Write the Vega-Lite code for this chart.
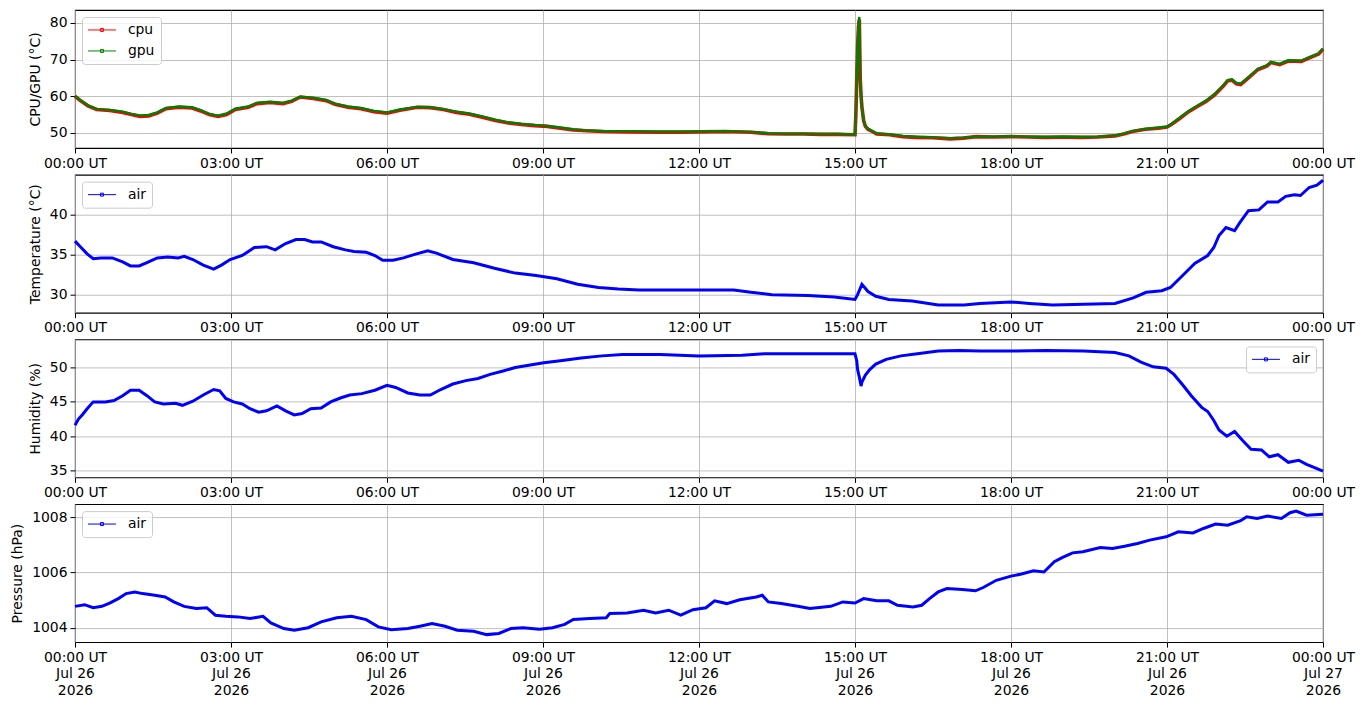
{
  "$schema": "https://vega.github.io/schema/vega-lite/v6.json",
  "padding": {"left": 10, "top": 9, "right": 0, "bottom": 0},
  "spacing": 2.7,
  "datasets": {
    "chips": [
      {"t": "2026-07-26T00:00Z", "cpu": 60.0, "gpu": 60.1},
      {"t": "2026-07-26T00:05Z", "cpu": 59.0, "gpu": 59.2},
      {"t": "2026-07-26T00:15Z", "cpu": 57.4, "gpu": 57.5},
      {"t": "2026-07-26T00:25Z", "cpu": 56.4, "gpu": 56.5},
      {"t": "2026-07-26T00:40Z", "cpu": 56.1, "gpu": 56.3},
      {"t": "2026-07-26T00:55Z", "cpu": 55.6, "gpu": 55.8},
      {"t": "2026-07-26T01:05Z", "cpu": 55.0, "gpu": 55.2},
      {"t": "2026-07-26T01:15Z", "cpu": 54.5, "gpu": 54.8},
      {"t": "2026-07-26T01:25Z", "cpu": 54.6, "gpu": 54.9},
      {"t": "2026-07-26T01:35Z", "cpu": 55.4, "gpu": 55.6},
      {"t": "2026-07-26T01:45Z", "cpu": 56.6, "gpu": 56.8},
      {"t": "2026-07-26T02:00Z", "cpu": 57.0, "gpu": 57.2},
      {"t": "2026-07-26T02:15Z", "cpu": 56.8, "gpu": 57.0},
      {"t": "2026-07-26T02:25Z", "cpu": 56.0, "gpu": 56.2},
      {"t": "2026-07-26T02:35Z", "cpu": 55.0, "gpu": 55.2},
      {"t": "2026-07-26T02:45Z", "cpu": 54.5, "gpu": 54.7},
      {"t": "2026-07-26T02:55Z", "cpu": 55.0, "gpu": 55.3},
      {"t": "2026-07-26T03:05Z", "cpu": 56.4, "gpu": 56.6},
      {"t": "2026-07-26T03:20Z", "cpu": 57.0, "gpu": 57.2},
      {"t": "2026-07-26T03:30Z", "cpu": 58.0, "gpu": 58.2},
      {"t": "2026-07-26T03:45Z", "cpu": 58.3, "gpu": 58.5},
      {"t": "2026-07-26T04:00Z", "cpu": 58.0, "gpu": 58.2},
      {"t": "2026-07-26T04:10Z", "cpu": 58.6, "gpu": 58.8},
      {"t": "2026-07-26T04:20Z", "cpu": 59.8, "gpu": 59.9},
      {"t": "2026-07-26T04:35Z", "cpu": 59.4, "gpu": 59.6},
      {"t": "2026-07-26T04:50Z", "cpu": 58.8, "gpu": 59.0},
      {"t": "2026-07-26T05:00Z", "cpu": 57.8, "gpu": 58.0},
      {"t": "2026-07-26T05:15Z", "cpu": 57.0, "gpu": 57.2},
      {"t": "2026-07-26T05:30Z", "cpu": 56.6, "gpu": 56.8},
      {"t": "2026-07-26T05:45Z", "cpu": 55.8, "gpu": 56.0},
      {"t": "2026-07-26T06:00Z", "cpu": 55.4, "gpu": 55.6},
      {"t": "2026-07-26T06:15Z", "cpu": 56.2, "gpu": 56.4},
      {"t": "2026-07-26T06:35Z", "cpu": 57.0, "gpu": 57.1},
      {"t": "2026-07-26T06:50Z", "cpu": 56.9, "gpu": 57.0},
      {"t": "2026-07-26T07:05Z", "cpu": 56.4, "gpu": 56.5},
      {"t": "2026-07-26T07:20Z", "cpu": 55.6, "gpu": 55.8},
      {"t": "2026-07-26T07:35Z", "cpu": 55.1, "gpu": 55.3},
      {"t": "2026-07-26T07:50Z", "cpu": 54.3, "gpu": 54.5},
      {"t": "2026-07-26T08:05Z", "cpu": 53.4, "gpu": 53.6},
      {"t": "2026-07-26T08:20Z", "cpu": 52.7, "gpu": 52.9},
      {"t": "2026-07-26T08:35Z", "cpu": 52.3, "gpu": 52.5},
      {"t": "2026-07-26T08:50Z", "cpu": 52.0, "gpu": 52.2},
      {"t": "2026-07-26T09:05Z", "cpu": 51.8, "gpu": 51.9},
      {"t": "2026-07-26T09:20Z", "cpu": 51.3, "gpu": 51.5},
      {"t": "2026-07-26T09:35Z", "cpu": 50.8, "gpu": 51.0},
      {"t": "2026-07-26T09:50Z", "cpu": 50.6, "gpu": 50.7},
      {"t": "2026-07-26T10:10Z", "cpu": 50.4, "gpu": 50.5},
      {"t": "2026-07-26T10:40Z", "cpu": 50.3, "gpu": 50.5},
      {"t": "2026-07-26T11:10Z", "cpu": 50.2, "gpu": 50.4},
      {"t": "2026-07-26T11:40Z", "cpu": 50.2, "gpu": 50.4},
      {"t": "2026-07-26T12:00Z", "cpu": 50.3, "gpu": 50.4},
      {"t": "2026-07-26T12:30Z", "cpu": 50.4, "gpu": 50.5},
      {"t": "2026-07-26T13:00Z", "cpu": 50.2, "gpu": 50.3},
      {"t": "2026-07-26T13:20Z", "cpu": 49.8, "gpu": 49.9},
      {"t": "2026-07-26T13:40Z", "cpu": 49.7, "gpu": 49.8},
      {"t": "2026-07-26T14:00Z", "cpu": 49.7, "gpu": 49.8},
      {"t": "2026-07-26T14:20Z", "cpu": 49.6, "gpu": 49.7},
      {"t": "2026-07-26T14:40Z", "cpu": 49.6, "gpu": 49.7},
      {"t": "2026-07-26T15:00Z", "cpu": 49.5, "gpu": 49.6},
      {"t": "2026-07-26T15:01Z", "cpu": 55.0, "gpu": 55.6},
      {"t": "2026-07-26T15:02Z", "cpu": 64.8, "gpu": 64.9},
      {"t": "2026-07-26T15:03Z", "cpu": 73.5, "gpu": 73.6},
      {"t": "2026-07-26T15:04Z", "cpu": 79.0, "gpu": 79.3},
      {"t": "2026-07-26T15:05Z", "cpu": 80.9, "gpu": 81.6},
      {"t": "2026-07-26T15:06Z", "cpu": 65.0, "gpu": 65.0},
      {"t": "2026-07-26T15:07Z", "cpu": 60.0, "gpu": 60.1},
      {"t": "2026-07-26T15:08Z", "cpu": 57.0, "gpu": 57.0},
      {"t": "2026-07-26T15:10Z", "cpu": 53.3, "gpu": 53.3},
      {"t": "2026-07-26T15:12Z", "cpu": 51.8, "gpu": 51.9},
      {"t": "2026-07-26T15:15Z", "cpu": 51.0, "gpu": 51.2},
      {"t": "2026-07-26T15:20Z", "cpu": 50.4, "gpu": 50.5},
      {"t": "2026-07-26T15:25Z", "cpu": 49.7, "gpu": 49.9},
      {"t": "2026-07-26T15:40Z", "cpu": 49.5, "gpu": 49.6},
      {"t": "2026-07-26T15:55Z", "cpu": 49.0, "gpu": 49.2},
      {"t": "2026-07-26T16:10Z", "cpu": 48.8, "gpu": 49.0},
      {"t": "2026-07-26T16:30Z", "cpu": 48.7, "gpu": 48.8},
      {"t": "2026-07-26T16:50Z", "cpu": 48.4, "gpu": 48.6},
      {"t": "2026-07-26T17:05Z", "cpu": 48.6, "gpu": 48.7},
      {"t": "2026-07-26T17:20Z", "cpu": 49.0, "gpu": 49.0},
      {"t": "2026-07-26T17:40Z", "cpu": 48.9, "gpu": 49.0},
      {"t": "2026-07-26T18:00Z", "cpu": 49.0, "gpu": 49.1},
      {"t": "2026-07-26T18:20Z", "cpu": 48.9, "gpu": 49.0},
      {"t": "2026-07-26T18:40Z", "cpu": 48.8, "gpu": 48.9},
      {"t": "2026-07-26T19:00Z", "cpu": 48.9, "gpu": 49.0},
      {"t": "2026-07-26T19:20Z", "cpu": 48.8, "gpu": 48.9},
      {"t": "2026-07-26T19:40Z", "cpu": 48.9, "gpu": 49.0},
      {"t": "2026-07-26T20:00Z", "cpu": 49.2, "gpu": 49.3},
      {"t": "2026-07-26T20:10Z", "cpu": 49.7, "gpu": 49.8},
      {"t": "2026-07-26T20:20Z", "cpu": 50.4, "gpu": 50.5},
      {"t": "2026-07-26T20:35Z", "cpu": 51.0, "gpu": 51.1},
      {"t": "2026-07-26T20:50Z", "cpu": 51.3, "gpu": 51.5},
      {"t": "2026-07-26T21:00Z", "cpu": 51.6, "gpu": 51.7},
      {"t": "2026-07-26T21:05Z", "cpu": 52.3, "gpu": 52.4},
      {"t": "2026-07-26T21:15Z", "cpu": 54.0, "gpu": 54.2},
      {"t": "2026-07-26T21:25Z", "cpu": 55.8, "gpu": 56.0},
      {"t": "2026-07-26T21:35Z", "cpu": 57.2, "gpu": 57.4},
      {"t": "2026-07-26T21:45Z", "cpu": 58.6, "gpu": 58.8},
      {"t": "2026-07-26T21:55Z", "cpu": 60.4, "gpu": 60.6},
      {"t": "2026-07-26T22:05Z", "cpu": 62.8, "gpu": 63.0},
      {"t": "2026-07-26T22:10Z", "cpu": 64.2, "gpu": 64.4},
      {"t": "2026-07-26T22:15Z", "cpu": 64.4, "gpu": 64.6},
      {"t": "2026-07-26T22:20Z", "cpu": 63.4, "gpu": 63.6},
      {"t": "2026-07-26T22:25Z", "cpu": 63.2, "gpu": 63.4},
      {"t": "2026-07-26T22:35Z", "cpu": 65.2, "gpu": 65.4},
      {"t": "2026-07-26T22:45Z", "cpu": 67.3, "gpu": 67.5},
      {"t": "2026-07-26T22:55Z", "cpu": 68.2, "gpu": 68.4},
      {"t": "2026-07-26T23:00Z", "cpu": 69.2, "gpu": 69.3},
      {"t": "2026-07-26T23:10Z", "cpu": 68.6, "gpu": 68.8},
      {"t": "2026-07-26T23:20Z", "cpu": 69.6, "gpu": 69.8},
      {"t": "2026-07-26T23:35Z", "cpu": 69.5, "gpu": 69.7},
      {"t": "2026-07-26T23:45Z", "cpu": 70.5, "gpu": 70.7},
      {"t": "2026-07-26T23:55Z", "cpu": 71.5, "gpu": 71.7},
      {"t": "2026-07-27T00:00Z", "cpu": 72.8, "gpu": 73.0}
    ],
    "temp": [
      {"t": "2026-07-26T00:00Z", "v": 36.7}, {"t": "2026-07-26T00:07Z", "v": 35.9},
      {"t": "2026-07-26T00:14Z", "v": 35.1}, {"t": "2026-07-26T00:21Z", "v": 34.5},
      {"t": "2026-07-26T00:30Z", "v": 34.6}, {"t": "2026-07-26T00:43Z", "v": 34.6},
      {"t": "2026-07-26T00:55Z", "v": 34.1}, {"t": "2026-07-26T01:04Z", "v": 33.6},
      {"t": "2026-07-26T01:14Z", "v": 33.6}, {"t": "2026-07-26T01:23Z", "v": 34.0},
      {"t": "2026-07-26T01:35Z", "v": 34.6}, {"t": "2026-07-26T01:47Z", "v": 34.7},
      {"t": "2026-07-26T01:59Z", "v": 34.6}, {"t": "2026-07-26T02:06Z", "v": 34.8},
      {"t": "2026-07-26T02:16Z", "v": 34.4}, {"t": "2026-07-26T02:28Z", "v": 33.7},
      {"t": "2026-07-26T02:40Z", "v": 33.2}, {"t": "2026-07-26T02:49Z", "v": 33.7},
      {"t": "2026-07-26T02:59Z", "v": 34.4}, {"t": "2026-07-26T03:13Z", "v": 34.9},
      {"t": "2026-07-26T03:27Z", "v": 35.9}, {"t": "2026-07-26T03:41Z", "v": 36.0},
      {"t": "2026-07-26T03:51Z", "v": 35.6}, {"t": "2026-07-26T04:03Z", "v": 36.4},
      {"t": "2026-07-26T04:15Z", "v": 36.9}, {"t": "2026-07-26T04:25Z", "v": 36.9},
      {"t": "2026-07-26T04:34Z", "v": 36.6}, {"t": "2026-07-26T04:44Z", "v": 36.6},
      {"t": "2026-07-26T04:58Z", "v": 36.0}, {"t": "2026-07-26T05:12Z", "v": 35.6},
      {"t": "2026-07-26T05:22Z", "v": 35.4}, {"t": "2026-07-26T05:36Z", "v": 35.3},
      {"t": "2026-07-26T05:46Z", "v": 34.9}, {"t": "2026-07-26T05:55Z", "v": 34.3},
      {"t": "2026-07-26T06:07Z", "v": 34.3}, {"t": "2026-07-26T06:19Z", "v": 34.6},
      {"t": "2026-07-26T06:34Z", "v": 35.1}, {"t": "2026-07-26T06:47Z", "v": 35.5},
      {"t": "2026-07-26T06:57Z", "v": 35.2}, {"t": "2026-07-26T07:16Z", "v": 34.4},
      {"t": "2026-07-26T07:40Z", "v": 34.0}, {"t": "2026-07-26T08:04Z", "v": 33.3},
      {"t": "2026-07-26T08:28Z", "v": 32.7}, {"t": "2026-07-26T08:52Z", "v": 32.4},
      {"t": "2026-07-26T09:16Z", "v": 32.0}, {"t": "2026-07-26T09:40Z", "v": 31.3},
      {"t": "2026-07-26T10:04Z", "v": 30.9}, {"t": "2026-07-26T10:27Z", "v": 30.7},
      {"t": "2026-07-26T10:51Z", "v": 30.6}, {"t": "2026-07-26T12:00Z", "v": 30.6},
      {"t": "2026-07-26T12:40Z", "v": 30.6}, {"t": "2026-07-26T13:00Z", "v": 30.3},
      {"t": "2026-07-26T13:24Z", "v": 30.0}, {"t": "2026-07-26T14:06Z", "v": 29.9},
      {"t": "2026-07-26T14:36Z", "v": 29.7}, {"t": "2026-07-26T15:00Z", "v": 29.4},
      {"t": "2026-07-26T15:03Z", "v": 30.0}, {"t": "2026-07-26T15:08Z", "v": 31.3},
      {"t": "2026-07-26T15:15Z", "v": 30.4}, {"t": "2026-07-26T15:24Z", "v": 29.8},
      {"t": "2026-07-26T15:39Z", "v": 29.4}, {"t": "2026-07-26T16:06Z", "v": 29.2},
      {"t": "2026-07-26T16:36Z", "v": 28.7}, {"t": "2026-07-26T17:06Z", "v": 28.7},
      {"t": "2026-07-26T17:24Z", "v": 28.9}, {"t": "2026-07-26T18:00Z", "v": 29.1},
      {"t": "2026-07-26T18:21Z", "v": 28.9}, {"t": "2026-07-26T18:48Z", "v": 28.7},
      {"t": "2026-07-26T19:24Z", "v": 28.8}, {"t": "2026-07-26T20:00Z", "v": 28.9},
      {"t": "2026-07-26T20:21Z", "v": 29.6}, {"t": "2026-07-26T20:36Z", "v": 30.3},
      {"t": "2026-07-26T20:54Z", "v": 30.5}, {"t": "2026-07-26T21:04Z", "v": 30.9},
      {"t": "2026-07-26T21:18Z", "v": 32.4}, {"t": "2026-07-26T21:32Z", "v": 33.9},
      {"t": "2026-07-26T21:47Z", "v": 34.9}, {"t": "2026-07-26T21:54Z", "v": 35.9},
      {"t": "2026-07-26T22:00Z", "v": 37.4}, {"t": "2026-07-26T22:08Z", "v": 38.4},
      {"t": "2026-07-26T22:18Z", "v": 38.0}, {"t": "2026-07-26T22:24Z", "v": 39.0},
      {"t": "2026-07-26T22:34Z", "v": 40.5}, {"t": "2026-07-26T22:46Z", "v": 40.6},
      {"t": "2026-07-26T22:56Z", "v": 41.6}, {"t": "2026-07-26T23:08Z", "v": 41.6},
      {"t": "2026-07-26T23:17Z", "v": 42.3}, {"t": "2026-07-26T23:27Z", "v": 42.5},
      {"t": "2026-07-26T23:34Z", "v": 42.4}, {"t": "2026-07-26T23:44Z", "v": 43.4},
      {"t": "2026-07-26T23:53Z", "v": 43.7}, {"t": "2026-07-27T00:00Z", "v": 44.3}
    ],
    "hum": [
      {"t": "2026-07-26T00:00Z", "v": 41.6}, {"t": "2026-07-26T00:04Z", "v": 42.5},
      {"t": "2026-07-26T00:09Z", "v": 43.2}, {"t": "2026-07-26T00:14Z", "v": 44.0},
      {"t": "2026-07-26T00:21Z", "v": 45.0}, {"t": "2026-07-26T00:35Z", "v": 45.0},
      {"t": "2026-07-26T00:45Z", "v": 45.2}, {"t": "2026-07-26T00:55Z", "v": 45.9},
      {"t": "2026-07-26T01:04Z", "v": 46.7}, {"t": "2026-07-26T01:14Z", "v": 46.7},
      {"t": "2026-07-26T01:23Z", "v": 45.9}, {"t": "2026-07-26T01:32Z", "v": 45.0},
      {"t": "2026-07-26T01:42Z", "v": 44.7}, {"t": "2026-07-26T01:56Z", "v": 44.8},
      {"t": "2026-07-26T02:04Z", "v": 44.5}, {"t": "2026-07-26T02:16Z", "v": 45.1},
      {"t": "2026-07-26T02:28Z", "v": 46.0}, {"t": "2026-07-26T02:40Z", "v": 46.8},
      {"t": "2026-07-26T02:47Z", "v": 46.6}, {"t": "2026-07-26T02:54Z", "v": 45.5},
      {"t": "2026-07-26T03:03Z", "v": 45.0}, {"t": "2026-07-26T03:13Z", "v": 44.7},
      {"t": "2026-07-26T03:22Z", "v": 44.0}, {"t": "2026-07-26T03:32Z", "v": 43.5},
      {"t": "2026-07-26T03:41Z", "v": 43.7}, {"t": "2026-07-26T03:53Z", "v": 44.4},
      {"t": "2026-07-26T04:03Z", "v": 43.7}, {"t": "2026-07-26T04:13Z", "v": 43.1},
      {"t": "2026-07-26T04:22Z", "v": 43.3}, {"t": "2026-07-26T04:32Z", "v": 44.0},
      {"t": "2026-07-26T04:44Z", "v": 44.1}, {"t": "2026-07-26T04:55Z", "v": 45.0},
      {"t": "2026-07-26T05:07Z", "v": 45.6}, {"t": "2026-07-26T05:17Z", "v": 46.0},
      {"t": "2026-07-26T05:31Z", "v": 46.2}, {"t": "2026-07-26T05:46Z", "v": 46.7},
      {"t": "2026-07-26T06:00Z", "v": 47.4}, {"t": "2026-07-26T06:10Z", "v": 47.1},
      {"t": "2026-07-26T06:24Z", "v": 46.3}, {"t": "2026-07-26T06:38Z", "v": 46.0},
      {"t": "2026-07-26T06:50Z", "v": 46.0}, {"t": "2026-07-26T07:02Z", "v": 46.8},
      {"t": "2026-07-26T07:16Z", "v": 47.6}, {"t": "2026-07-26T07:31Z", "v": 48.1},
      {"t": "2026-07-26T07:45Z", "v": 48.4}, {"t": "2026-07-26T07:59Z", "v": 49.0},
      {"t": "2026-07-26T08:14Z", "v": 49.5}, {"t": "2026-07-26T08:28Z", "v": 50.0},
      {"t": "2026-07-26T08:47Z", "v": 50.4}, {"t": "2026-07-26T09:01Z", "v": 50.7},
      {"t": "2026-07-26T09:20Z", "v": 51.0}, {"t": "2026-07-26T09:44Z", "v": 51.4},
      {"t": "2026-07-26T10:08Z", "v": 51.7}, {"t": "2026-07-26T10:32Z", "v": 51.9},
      {"t": "2026-07-26T11:15Z", "v": 51.9}, {"t": "2026-07-26T12:00Z", "v": 51.7},
      {"t": "2026-07-26T12:50Z", "v": 51.8}, {"t": "2026-07-26T13:15Z", "v": 52.0},
      {"t": "2026-07-26T14:10Z", "v": 52.0}, {"t": "2026-07-26T15:00Z", "v": 52.0},
      {"t": "2026-07-26T15:02Z", "v": 51.0}, {"t": "2026-07-26T15:03Z", "v": 49.7},
      {"t": "2026-07-26T15:05Z", "v": 48.6}, {"t": "2026-07-26T15:07Z", "v": 47.3},
      {"t": "2026-07-26T15:08Z", "v": 47.9}, {"t": "2026-07-26T15:12Z", "v": 48.9},
      {"t": "2026-07-26T15:17Z", "v": 49.7}, {"t": "2026-07-26T15:24Z", "v": 50.5},
      {"t": "2026-07-26T15:36Z", "v": 51.2}, {"t": "2026-07-26T15:53Z", "v": 51.7},
      {"t": "2026-07-26T16:12Z", "v": 52.0}, {"t": "2026-07-26T16:36Z", "v": 52.4},
      {"t": "2026-07-26T17:00Z", "v": 52.5}, {"t": "2026-07-26T17:24Z", "v": 52.4},
      {"t": "2026-07-26T18:00Z", "v": 52.4}, {"t": "2026-07-26T18:40Z", "v": 52.5},
      {"t": "2026-07-26T19:24Z", "v": 52.4}, {"t": "2026-07-26T20:00Z", "v": 52.2},
      {"t": "2026-07-26T20:16Z", "v": 51.7}, {"t": "2026-07-26T20:30Z", "v": 50.8},
      {"t": "2026-07-26T20:44Z", "v": 50.1}, {"t": "2026-07-26T20:59Z", "v": 49.9},
      {"t": "2026-07-26T21:08Z", "v": 49.0}, {"t": "2026-07-26T21:18Z", "v": 47.5},
      {"t": "2026-07-26T21:28Z", "v": 45.9}, {"t": "2026-07-26T21:40Z", "v": 44.2},
      {"t": "2026-07-26T21:47Z", "v": 43.6}, {"t": "2026-07-26T21:54Z", "v": 42.3},
      {"t": "2026-07-26T22:00Z", "v": 40.9}, {"t": "2026-07-26T22:09Z", "v": 40.0},
      {"t": "2026-07-26T22:18Z", "v": 40.7}, {"t": "2026-07-26T22:27Z", "v": 39.4},
      {"t": "2026-07-26T22:37Z", "v": 38.1}, {"t": "2026-07-26T22:49Z", "v": 38.0},
      {"t": "2026-07-26T22:58Z", "v": 37.0}, {"t": "2026-07-26T23:08Z", "v": 37.3},
      {"t": "2026-07-26T23:20Z", "v": 36.2}, {"t": "2026-07-26T23:32Z", "v": 36.5},
      {"t": "2026-07-26T23:41Z", "v": 35.9}, {"t": "2026-07-26T23:51Z", "v": 35.4},
      {"t": "2026-07-27T00:00Z", "v": 34.9}
    ],
    "pres": [
      {"t": "2026-07-26T00:00Z", "v": 1004.78}, {"t": "2026-07-26T00:11Z", "v": 1004.84},
      {"t": "2026-07-26T00:21Z", "v": 1004.73}, {"t": "2026-07-26T00:31Z", "v": 1004.78},
      {"t": "2026-07-26T00:40Z", "v": 1004.90}, {"t": "2026-07-26T00:50Z", "v": 1005.06},
      {"t": "2026-07-26T00:59Z", "v": 1005.24}, {"t": "2026-07-26T01:09Z", "v": 1005.30},
      {"t": "2026-07-26T01:18Z", "v": 1005.24}, {"t": "2026-07-26T01:32Z", "v": 1005.18},
      {"t": "2026-07-26T01:44Z", "v": 1005.12}, {"t": "2026-07-26T01:54Z", "v": 1004.94},
      {"t": "2026-07-26T02:06Z", "v": 1004.78}, {"t": "2026-07-26T02:20Z", "v": 1004.70},
      {"t": "2026-07-26T02:32Z", "v": 1004.73}, {"t": "2026-07-26T02:42Z", "v": 1004.46},
      {"t": "2026-07-26T02:54Z", "v": 1004.42}, {"t": "2026-07-26T03:08Z", "v": 1004.40},
      {"t": "2026-07-26T03:22Z", "v": 1004.34}, {"t": "2026-07-26T03:37Z", "v": 1004.42},
      {"t": "2026-07-26T03:46Z", "v": 1004.18}, {"t": "2026-07-26T04:01Z", "v": 1003.98},
      {"t": "2026-07-26T04:13Z", "v": 1003.92}, {"t": "2026-07-26T04:29Z", "v": 1004.01},
      {"t": "2026-07-26T04:44Z", "v": 1004.22}, {"t": "2026-07-26T05:02Z", "v": 1004.37},
      {"t": "2026-07-26T05:19Z", "v": 1004.42}, {"t": "2026-07-26T05:36Z", "v": 1004.30},
      {"t": "2026-07-26T05:50Z", "v": 1004.04}, {"t": "2026-07-26T06:05Z", "v": 1003.94},
      {"t": "2026-07-26T06:24Z", "v": 1003.98}, {"t": "2026-07-26T06:38Z", "v": 1004.06},
      {"t": "2026-07-26T06:52Z", "v": 1004.16}, {"t": "2026-07-26T07:07Z", "v": 1004.06},
      {"t": "2026-07-26T07:21Z", "v": 1003.92}, {"t": "2026-07-26T07:40Z", "v": 1003.88},
      {"t": "2026-07-26T07:55Z", "v": 1003.76}, {"t": "2026-07-26T08:09Z", "v": 1003.80},
      {"t": "2026-07-26T08:23Z", "v": 1003.98}, {"t": "2026-07-26T08:37Z", "v": 1004.01},
      {"t": "2026-07-26T08:56Z", "v": 1003.95}, {"t": "2026-07-26T09:11Z", "v": 1004.01},
      {"t": "2026-07-26T09:25Z", "v": 1004.13}, {"t": "2026-07-26T09:35Z", "v": 1004.31},
      {"t": "2026-07-26T09:54Z", "v": 1004.34}, {"t": "2026-07-26T10:13Z", "v": 1004.37},
      {"t": "2026-07-26T10:17Z", "v": 1004.52}, {"t": "2026-07-26T10:37Z", "v": 1004.54},
      {"t": "2026-07-26T10:56Z", "v": 1004.64}, {"t": "2026-07-26T11:10Z", "v": 1004.54},
      {"t": "2026-07-26T11:25Z", "v": 1004.64}, {"t": "2026-07-26T11:39Z", "v": 1004.46},
      {"t": "2026-07-26T11:53Z", "v": 1004.66}, {"t": "2026-07-26T12:08Z", "v": 1004.73},
      {"t": "2026-07-26T12:18Z", "v": 1004.98}, {"t": "2026-07-26T12:32Z", "v": 1004.88},
      {"t": "2026-07-26T12:47Z", "v": 1005.02}, {"t": "2026-07-26T13:06Z", "v": 1005.12},
      {"t": "2026-07-26T13:13Z", "v": 1005.18}, {"t": "2026-07-26T13:20Z", "v": 1004.94},
      {"t": "2026-07-26T13:35Z", "v": 1004.88}, {"t": "2026-07-26T13:54Z", "v": 1004.78},
      {"t": "2026-07-26T14:08Z", "v": 1004.70}, {"t": "2026-07-26T14:32Z", "v": 1004.78},
      {"t": "2026-07-26T14:46Z", "v": 1004.94}, {"t": "2026-07-26T15:00Z", "v": 1004.90},
      {"t": "2026-07-26T15:10Z", "v": 1005.06}, {"t": "2026-07-26T15:25Z", "v": 1004.98},
      {"t": "2026-07-26T15:39Z", "v": 1004.98}, {"t": "2026-07-26T15:49Z", "v": 1004.82},
      {"t": "2026-07-26T16:07Z", "v": 1004.76}, {"t": "2026-07-26T16:17Z", "v": 1004.82},
      {"t": "2026-07-26T16:26Z", "v": 1005.06}, {"t": "2026-07-26T16:36Z", "v": 1005.30},
      {"t": "2026-07-26T16:46Z", "v": 1005.42}, {"t": "2026-07-26T17:04Z", "v": 1005.39},
      {"t": "2026-07-26T17:19Z", "v": 1005.34}, {"t": "2026-07-26T17:28Z", "v": 1005.46},
      {"t": "2026-07-26T17:43Z", "v": 1005.72}, {"t": "2026-07-26T18:00Z", "v": 1005.87},
      {"t": "2026-07-26T18:11Z", "v": 1005.94}, {"t": "2026-07-26T18:26Z", "v": 1006.06},
      {"t": "2026-07-26T18:38Z", "v": 1006.02}, {"t": "2026-07-26T18:50Z", "v": 1006.39},
      {"t": "2026-07-26T18:59Z", "v": 1006.54}, {"t": "2026-07-26T19:11Z", "v": 1006.71},
      {"t": "2026-07-26T19:23Z", "v": 1006.75}, {"t": "2026-07-26T19:43Z", "v": 1006.90},
      {"t": "2026-07-26T19:57Z", "v": 1006.87}, {"t": "2026-07-26T20:11Z", "v": 1006.95},
      {"t": "2026-07-26T20:26Z", "v": 1007.05}, {"t": "2026-07-26T20:40Z", "v": 1007.17},
      {"t": "2026-07-26T20:59Z", "v": 1007.29}, {"t": "2026-07-26T21:13Z", "v": 1007.47},
      {"t": "2026-07-26T21:30Z", "v": 1007.43}, {"t": "2026-07-26T21:42Z", "v": 1007.59},
      {"t": "2026-07-26T21:56Z", "v": 1007.75}, {"t": "2026-07-26T22:10Z", "v": 1007.71},
      {"t": "2026-07-26T22:25Z", "v": 1007.87}, {"t": "2026-07-26T22:32Z", "v": 1008.01},
      {"t": "2026-07-26T22:44Z", "v": 1007.95}, {"t": "2026-07-26T22:56Z", "v": 1008.04},
      {"t": "2026-07-26T23:12Z", "v": 1007.95}, {"t": "2026-07-26T23:22Z", "v": 1008.16},
      {"t": "2026-07-26T23:29Z", "v": 1008.22}, {"t": "2026-07-26T23:41Z", "v": 1008.07},
      {"t": "2026-07-27T00:00Z", "v": 1008.10}
    ]
  },
  "vconcat": [
    {
      "width": 1248,
      "height": 138,
      "data": {"name": "chips"},
      "transform": [{"fold": ["cpu", "gpu"], "as": ["s", "v"]}],
      "encoding": {
        "x": {
          "field": "t", "type": "temporal", "title": null,
          "scale": {"type": "utc", "domain": [1785024000000, 1785110400000]},
          "axis": {
            "values": [1785024000000, 1785034800000, 1785045600000, 1785056400000, 1785067200000, 1785078000000, 1785088800000, 1785099600000, 1785110400000],
            "labelExpr": "utcFormat(datum.value, '%H:%M UT')"
          }
        },
        "y": {
          "field": "v", "type": "quantitative", "title": "CPU/GPU (°C)",
          "scale": {"domain": [45.9, 83.5], "nice": false, "zero": false},
          "axis": {"values": [50, 60, 70, 80]}
        },
        "color": {
          "field": "s", "type": "nominal",
          "scale": {"domain": ["cpu", "gpu"], "range": ["#ff0000", "#008000"]},
          "legend": {"orient": "top-left", "title": null}
        }
      },
      "layer": [
        {"transform": [{"filter": "datum.s === 'cpu'"}], "mark": {"type": "line", "strokeWidth": 3.6}},
        {"transform": [{"filter": "datum.s === 'gpu'"}], "mark": {"type": "line", "strokeWidth": 2.4}}
      ]
    },
    {
      "width": 1248,
      "height": 138,
      "data": {"name": "temp"},
      "mark": {"type": "line", "strokeWidth": 3},
      "encoding": {
        "x": {
          "field": "t", "type": "temporal", "title": null,
          "scale": {"type": "utc", "domain": [1785024000000, 1785110400000]},
          "axis": {
            "values": [1785024000000, 1785034800000, 1785045600000, 1785056400000, 1785067200000, 1785078000000, 1785088800000, 1785099600000, 1785110400000],
            "labelExpr": "utcFormat(datum.value, '%H:%M UT')"
          }
        },
        "y": {
          "field": "v", "type": "quantitative", "title": "Temperature (°C)",
          "scale": {"domain": [27.75, 45.0], "nice": false, "zero": false},
          "axis": {"values": [30, 35, 40]}
        },
        "color": {"datum": "air", "type": "nominal", "scale": {"range": ["#0000ff"]}, "legend": {"orient": "top-left", "title": null}}
      }
    },
    {
      "width": 1248,
      "height": 138,
      "data": {"name": "hum"},
      "mark": {"type": "line", "strokeWidth": 3},
      "encoding": {
        "x": {
          "field": "t", "type": "temporal", "title": null,
          "scale": {"type": "utc", "domain": [1785024000000, 1785110400000]},
          "axis": {
            "values": [1785024000000, 1785034800000, 1785045600000, 1785056400000, 1785067200000, 1785078000000, 1785088800000, 1785099600000, 1785110400000],
            "labelExpr": "utcFormat(datum.value, '%H:%M UT')"
          }
        },
        "y": {
          "field": "v", "type": "quantitative", "title": "Humidity (%)",
          "scale": {"domain": [34.0, 54.1], "nice": false, "zero": false},
          "axis": {"values": [35, 40, 45, 50]}
        },
        "color": {"datum": "air", "type": "nominal", "scale": {"range": ["#0000ff"]}, "legend": {"orient": "top-right", "title": null}}
      }
    },
    {
      "width": 1248,
      "height": 138,
      "data": {"name": "pres"},
      "mark": {"type": "line", "strokeWidth": 3},
      "encoding": {
        "x": {
          "field": "t", "type": "temporal", "title": null,
          "scale": {"type": "utc", "domain": [1785024000000, 1785110400000]},
          "axis": {
            "values": [1785024000000, 1785034800000, 1785045600000, 1785056400000, 1785067200000, 1785078000000, 1785088800000, 1785099600000, 1785110400000],
            "labelLineHeight": 16.5,
            "labelExpr": "[utcFormat(datum.value, '%H:%M UT'), utcFormat(datum.value, '%b %d'), utcFormat(datum.value, '%Y')]"
          }
        },
        "y": {
          "field": "v", "type": "quantitative", "title": "Pressure (hPa)",
          "scale": {"domain": [1003.49, 1008.47], "nice": false, "zero": false},
          "axis": {"values": [1004, 1006, 1008], "format": "d"}
        },
        "color": {"datum": "air", "type": "nominal", "scale": {"range": ["#0000ff"]}, "legend": {"orient": "top-left", "title": null}}
      }
    }
  ],
  "resolve": {
    "scale": {"x": "independent", "y": "independent", "color": "independent"},
    "legend": {"color": "independent"}
  },
  "config": {
    "font": "DejaVu Sans",
    "view": {"stroke": "black", "strokeWidth": 1.1},
    "axis": {
      "labelFont": "DejaVu Sans", "labelFontSize": 13.9, "labelColor": "black",
      "titleFont": "DejaVu Sans", "titleFontSize": 13.9, "titleFontWeight": "normal", "titleColor": "black",
      "tickColor": "black", "tickSize": 5, "tickWidth": 1, "labelPadding": 3,
      "domain": false, "gridColor": "#b0b0b0", "gridWidth": 0.8,
      "labelFlush": false, "labelOverlap": false, "titlePadding": 7
    },
    "legend": {
      "offset": 7, "padding": 6,
      "fillColor": "rgba(255,255,255,0.8)", "strokeColor": "#cccccc", "cornerRadius": 3,
      "labelFont": "DejaVu Sans", "labelFontSize": 13.9, "labelColor": "black",
      "symbolType": "M-2.8,0H2.8M-0.3,-0.3H0.3V0.3H-0.3Z", "symbolSize": 100,
      "symbolStrokeWidth": 1, "symbolOffset": 7, "labelOffset": 19, "rowPadding": 6
    }
  }
}
